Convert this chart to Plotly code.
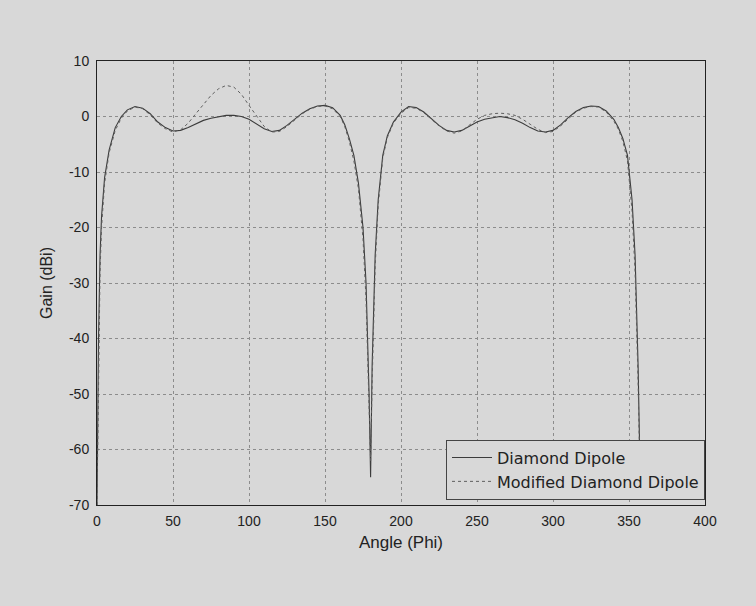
import plotly.graph_objects as go

# Azimuth angle (degrees) and gain (dBi) for both antennas
phi = [0, 1, 2, 3, 5, 8, 12, 16, 20, 25, 30, 35, 40, 45, 50, 55, 60, 65, 70, 75,
       80, 85, 90, 95, 100, 105, 110, 115, 120, 125, 130, 135, 140, 145, 150, 155,
       160, 163, 166, 169, 172, 175, 177, 179, 180, 181, 183, 185, 188, 191, 195,
       200, 205, 210, 215, 220, 225, 230, 235, 240, 245, 250, 255, 260, 265, 270,
       275, 280, 285, 290, 295, 300, 305, 310, 315, 320, 325, 330, 335, 340, 343,
       346, 349, 352, 354, 356, 357, 358]

gain_diamond = [-70, -40, -25, -18, -11, -6, -2, 0, 1.2, 1.8, 1.5, 0.5, -1, -2, -2.6,
                -2.5, -2, -1.3, -0.7, -0.3, 0, 0.2, 0.2, 0, -0.5, -1.3, -2.2, -2.7,
                -2.5, -1.6, -0.5, 0.6, 1.4, 1.9, 2, 1.6, 0.2, -1.5, -4, -7, -12, -20,
                -30, -50, -65, -45, -25, -15, -7, -3.5, -1, 0.8, 1.8, 1.6, 0.8, -0.4,
                -1.6, -2.5, -2.8, -2.5, -1.8, -1, -0.5, -0.2, 0, -0.2, -0.6, -1.2, -2,
                -2.6, -2.8, -2.5, -1.5, -0.2, 0.9, 1.6, 1.9, 1.8, 1.0, -0.5, -2, -4,
                -7, -15, -25, -45, -60, -66]

gain_modified = [-70, -45, -28, -20, -12, -6.5, -2.5, -0.3, 1, 1.7, 1.4, 0.3, -1.2,
                 -2.2, -2.8, -2.4, -1.2, 0.5, 2.2, 3.8, 5, 5.6, 5.3, 4, 2, 0, -1.8,
                 -2.8, -2.7, -1.8, -0.6, 0.5, 1.3, 1.8, 1.9, 1.4, 0, -1.8, -4.5, -8,
                 -13, -22, -33, -52, -62, -48, -27, -16, -7.5, -3.8, -1.2, 0.6, 1.6,
                 1.5, 0.7, -0.5, -1.7, -2.6, -3, -2.6, -1.6, -0.5, 0.2, 0.5, 0.6, 0.5,
                 0.2, -0.5, -1.4, -2.3, -2.9, -2.7, -1.7, -0.4, 0.8, 1.5, 1.8, 1.7,
                 0.8, -0.8, -2.3, -4.5, -8, -17, -28, -48, -62, -68]

x_ticks = [0, 50, 100, 150, 200, 250, 300, 350, 400]
y_ticks = [10, 0, -10, -20, -30, -40, -50, -60, -70]
y_tick_text = ["10", "0", "-10", "-20", "-30", "-40", "-50", "-60", "-70"]

bg = "#d8d8d8"
font_family = "Liberation Sans, Arial, sans-serif"

fig = go.Figure()
fig.add_trace(go.Scatter(
    x=phi, y=gain_diamond, mode="lines", name="Diamond Dipole",
    line=dict(color="#3c3c3c", width=1.1),
))
fig.add_trace(go.Scatter(
    x=phi, y=gain_modified, mode="lines", name="Modified Diamond Dipole",
    line=dict(color="#5e5e5e", width=1, dash="dot"),
))

axis_common = dict(
    showline=True, mirror=True, linecolor="#222222", linewidth=1,
    showgrid=True, gridcolor="#8c8c8c", griddash="dot", gridwidth=1,
    zeroline=False, ticks="", tickfont=dict(size=14, color="#222222"),
)

fig.update_layout(
    width=756, height=606,
    margin=dict(l=97, r=51, t=61, b=101),
    paper_bgcolor=bg, plot_bgcolor=bg,
    font=dict(family=font_family, color="#222222"),
    xaxis=dict(range=[0, 400], tickvals=x_ticks, ticklabelstandoff=3,
               title=dict(text="Angle (Phi)", font=dict(size=17), standoff=8),
               **axis_common),
    yaxis=dict(range=[-70, 10], tickvals=y_ticks, ticktext=y_tick_text,
               ticklabelstandoff=4,
               title=dict(text="Gain (dBi)", font=dict(size=16), standoff=12),
               **axis_common),
    legend=dict(
        x=1, y=0.012, xanchor="right", yanchor="bottom",
        bgcolor=bg, bordercolor="#444444", borderwidth=1,
        font=dict(family="DejaVu Sans, sans-serif", size=16, color="#222222"),
        itemwidth=40, tracegroupgap=0,
    ),
    showlegend=True,
)

fig.write_html("out.html")
